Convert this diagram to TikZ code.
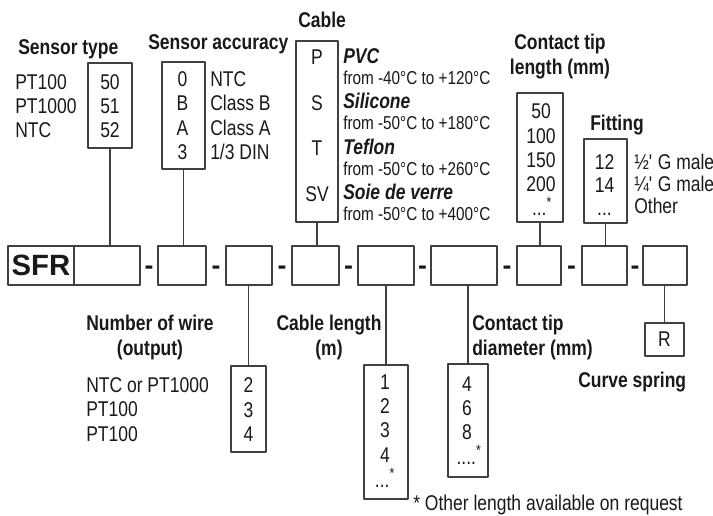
\documentclass[tikz,border=0pt]{standalone}
\usepackage{fontspec}
\setmainfont{Liberation Sans}[FakeStretch=0.82]
\newfontfamily\widefont{Liberation Sans}
\usetikzlibrary{calc}
\begin{document}
\begin{tikzpicture}[x=0.75pt, y=-0.75pt, line join=round,
	every node/.style={inner sep=0pt, text=black!90},
	txt/.style={font=\fontsize{16}{18}\selectfont},
	rangetxt/.style={font=\fontsize{14}{16}\selectfont},
	heading/.style={font=\fontsize{16}{18.75}\selectfont\bfseries},
	matname/.style={font=\fontsize{16}{18}\selectfont\bfseries\itshape},
	codebox/.style 2 args={draw=black!75, line width=0.8pt, minimum width=#1*0.75pt, minimum height=#2*0.75pt},
	link/.style={draw=black!75, line width=0.8pt},
	joiner/.style={font=\widefont\fontsize{20}{22}\selectfont\bfseries, yshift=-3.4pt}]
	\useasboundingbox (0,0) rectangle (713,516);
	% code line
	\node[codebox={66}{39}, font=\widefont\fontsize{22}{24}\selectfont\bfseries] (sfr) at (41,265.5) {SFR};
	\foreach \n/\x/\w in {c1/107/66, c2/182/48, c3/249/46, c4/315.5/47, c5/386/56, c6/464/66, c7/539/44, c8/604.5/45, c9/665/44}
		\node[codebox={\w}{39}] (\n) at (\x,265.5) {};
	\foreach \a/\b in {c1/c2, c2/c3, c3/c4, c4/c5, c5/c6, c6/c7, c7/c8, c8/c9}
		\path (\a.east) -- (\b.west) node[joiner, midway] (dash-\a) {-};
	% option boxes
	\node[codebox={44}{85}] (typebox) at (110,105.5) {};
	\node[codebox={43}{107}] (accbox) at (183.5,115.5) {};
	\node[codebox={42}{181}] (cablebox) at (317,131.5) {};
	\node[codebox={46}{129}] (tipbox) at (540,157.5) {};
	\node[codebox={43}{84}] (fitbox) at (605.5,181) {};
	\node[codebox={35}{86}] (wirebox) at (248.5,409) {};
	\node[codebox={44}{134}] (lenbox) at (386,432) {};
	\node[codebox={40}{113}] (diabox) at (468,420.5) {};
	\node[codebox={39}{33}, txt] (springbox) at (664.5,339.5) {R};
	\draw[link] (typebox) -- (typebox |- c1.north);
	\draw[link] (accbox) -- (accbox |- c2.north);
	\draw[link] (cablebox) -- (cablebox |- c4.north);
	\draw[link] (tipbox) -- (tipbox |- c7.north);
	\draw[link] (fitbox) -- (fitbox |- c8.north);
	\draw[link] (c3.south -| wirebox) -- (wirebox);
	\draw[link] (c5.south -| lenbox) -- (lenbox);
	\draw[link] (c6.south -| diabox) -- (diabox);
	\draw[link] (c9.south -| springbox) -- (springbox);
	% headings
	\node[heading, anchor=base west] (typehead) at (18,55) {Sensor type};
	\node[heading, anchor=base west] (acchead) at (148,49.3) {Sensor accuracy};
	\node[heading, anchor=base west] (cablehead) at (298,27.3) {Cable};
	\node[heading, anchor=north, align=center] (tiphead) at (560,33.5) {Contact tip\\length (mm)};
	\node[heading, anchor=base west] (fithead) at (590,130.7) {Fitting};
	\node[heading, anchor=north, align=center] (wirehead) at (150,315) {Number of wire\\(output)};
	\node[heading, anchor=north, align=center] (lenhead) at (329,315) {Cable length\\(m)};
	\node[heading, anchor=north west, align=left] (diahead) at (472,315) {Contact tip\\diameter (mm)};
	\node[heading, anchor=base west] (springhead) at (578,387) {Curve spring};
	% entries
	\foreach \lbl/\cd [count=\i] in {PT100/50, PT1000/51, NTC/52}{
		\node[txt, anchor=base west] (tname\i) at (15,{89.5+24*(\i-1)}) {\lbl};
		\node[txt, anchor=base] (tcode\i) at (110,{89.5+24*(\i-1)}) {\cd};
	}
	\foreach \cd/\lbl [count=\i] in {0/NTC, B/Class B, A/Class A, 3/{1/3 DIN}}{
		\node[txt, anchor=base] (acode\i) at (182.5,{86.5+24.5*(\i-1)}) {\cd};
		\node[txt, anchor=base west] (aname\i) at (210,{86.5+24.5*(\i-1)}) {\lbl};
	}
	\foreach \cd/\mat/\lo/\hi [count=\i] in {P/PVC/-40/+120, S/Silicone/-50/+180, T/Teflon/-50/+260, SV/Soie de verre/-50/+400}{
		\node[txt, anchor=base] (ccode\i) at (317,{65+45.5*(\i-1)}) {\cd};
		\node[matname, anchor=base west] (cmat\i) at (343,{63.5+45.5*(\i-1)}) {\mat};
		\node[rangetxt, anchor=base west] (crange\i) at (343,{84.5+45.5*(\i-1)}) {from \lo°C to \hi°C};
	}
	\foreach \v [count=\i] in {50,100,150,200}
		\node[txt, anchor=base] (tip\i) at (541,{119+24.3*(\i-1)}) {\v};
	\node[txt, anchor=base] (tipmore) at (542,216) {...\textsuperscript{*}};
	\foreach \cd/\lbl [count=\i] in {12/½\textquotesingle\ G male, 14/¼\textquotesingle\ G male}{
		\node[txt, anchor=base] (fcode\i) at (604.5,{170+23*(\i-1)}) {\cd};
		\node[txt, anchor=base west] (fname\i) at (634,{170+22*(\i-1)}) {\lbl};
	}
	\node[txt, anchor=base] (fcode3) at (604.5,216) {...};
	\node[txt, anchor=base west] (fname3) at (634,214) {Other};
	\foreach \lbl/\cd [count=\i] in {NTC or PT1000/2, PT100/3, PT100/4}{
		\node[txt, anchor=base west] (wname\i) at (86,{392+24.5*(\i-1)}) {\lbl};
		\node[txt, anchor=base] (wcode\i) at (248.5,{392.5+24.5*(\i-1)}) {\cd};
	}
	\foreach \v [count=\i] in {1,2,3,4}
		\node[txt, anchor=base] (len\i) at (385,{389+24.4*(\i-1)}) {\v};
	\node[txt, anchor=base] (lenmore) at (385,487) {...\textsuperscript{*}};
	\foreach \v [count=\i] in {4,6,8}
		\node[txt, anchor=base] (dia\i) at (467,{391+24.3*(\i-1)}) {\v};
	\node[txt, anchor=base] (diamore) at (469,464) {....\textsuperscript{*}};
	\node[txt, anchor=base west] (footnote) at (413,510.7) {* Other length available on request};
\end{tikzpicture}
\end{document}
